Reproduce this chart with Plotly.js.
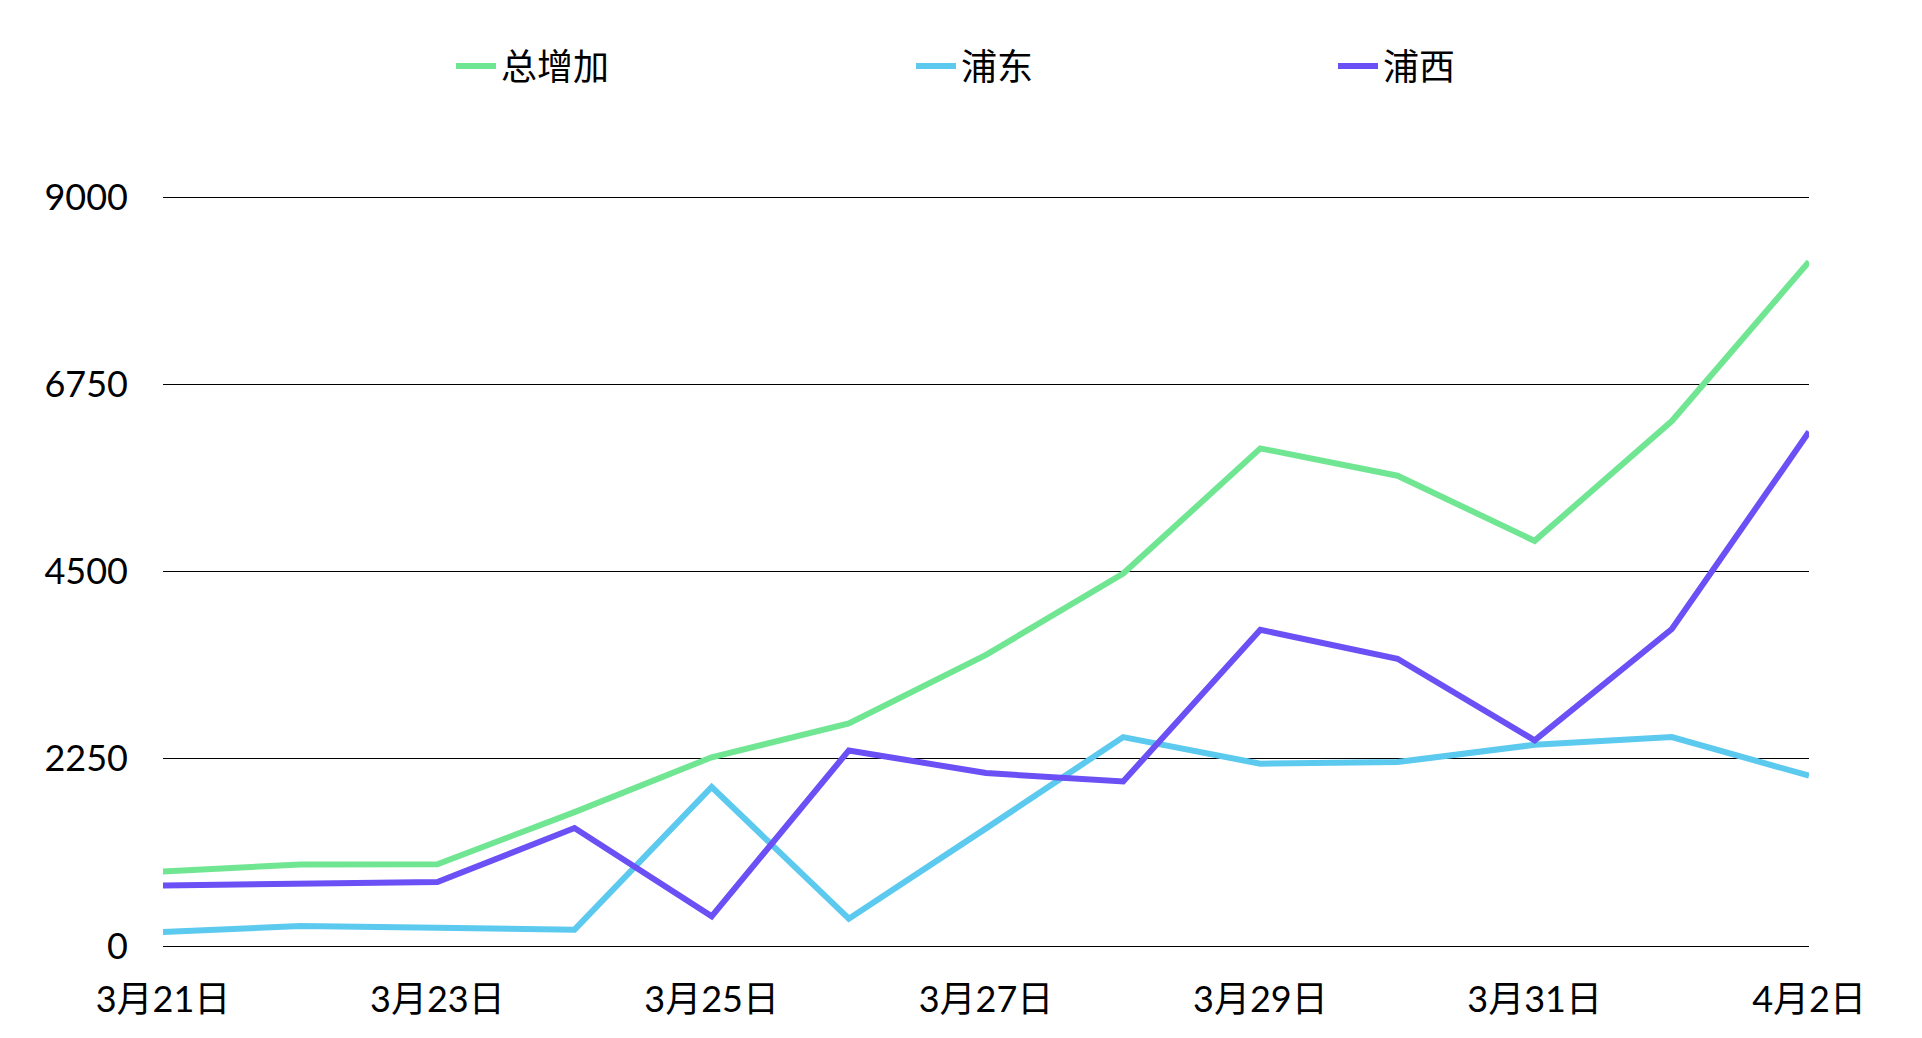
<!DOCTYPE html>
<html>
<head>
<meta charset="utf-8">
<script src="https://cdn.plot.ly/plotly-3.0.1.min.js"></script>
<style>html,body{margin:0;padding:0;background:#fff;}#chart{width:1922px;height:1038px;}</style>
</head>
<body>
<div id="chart"></div>
<script>
const dates = ["3月21日","3月22日","3月23日","3月24日","3月25日","3月26日","3月27日","3月28日","3月29日","3月30日","3月31日","4月1日","4月2日"];
const tickDates = ["3月21日","3月23日","3月25日","3月27日","3月29日","3月31日","4月2日"];
const yTicks = [0, 2250, 4500, 6750, 9000];
const seriesNames = ["总增加","浦东","浦西"];
const total = [896, 981, 983, 1609, 2269, 2676, 3500, 4477, 5982, 5653, 4870, 6311, 8226];
const pudong = [168, 240, 220, 196, 1911, 328, 1414, 2511, 2191, 2211, 2419, 2511, 2047];
const puxi = [728, 749, 769, 1418, 356, 2351, 2079, 1978, 3801, 3453, 2471, 3810, 6181];

const colors = ["#70E693", "#5CC9EF", "#6B50F5"];
const FONT = "Lato, 'Noto Sans CJK SC', sans-serif";
const W = 1922, H = 1038;

const values = [total, pudong, puxi];
const legendIds = ["legend", "legend2", "legend3"];
const traces = values.map((v, i) => ({
  type: "scatter", mode: "lines", x: dates, y: v, name: seriesNames[i],
  line: {color: colors[i], width: 6}, legend: legendIds[i]
}));

const legendText = [503, 963, 1385];
const IW = 40;
function legendCfg(i) {
  return {
    xref: "container", yref: "container",
    x: (legendText[i] - IW - 12) / W, y: 1 - 66 / H, xanchor: "left", yanchor: "middle",
    orientation: "h", font: {family: FONT, size: 36, color: "#000"},
    bgcolor: "rgba(0,0,0,0)", itemwidth: IW
  };
}

const layout = {
  width: W, height: H,
  margin: {l: 163, r: 113, t: 189, b: 92},
  paper_bgcolor: "#fff", plot_bgcolor: "#fff",
  font: {family: FONT, size: 36, color: "#000"},
  showlegend: true,
  legend: legendCfg(0), legend2: legendCfg(1), legend3: legendCfg(2),
  xaxis: {
    type: "category", categoryorder: "array", categoryarray: dates,
    range: [0, dates.length - 1], tickmode: "array", tickvals: tickDates, ticktext: tickDates,
    showgrid: false, zeroline: false, showline: true, linecolor: "#000", linewidth: 1,
    ticks: "", ticklabelstandoff: 22, tickfont: {family: FONT, size: 36, color: "#000"}
  },
  yaxis: {
    range: [0, 9100], tickmode: "array", tickvals: yTicks, ticktext: yTicks.map(String),
    showgrid: true, gridcolor: "#000", gridwidth: 1, zeroline: false, showline: false,
    ticks: "", ticklabelstandoff: 34, tickfont: {family: FONT, size: 36, color: "#000"}
  }
};

Plotly.newPlot("chart", traces, layout, {displayModeBar: false, staticPlot: true});
</script>
</body>
</html>
